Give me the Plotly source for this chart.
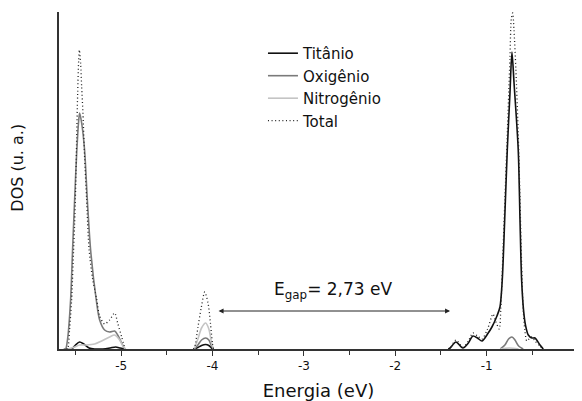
import plotly.graph_objects as go

# ---------------- data (energy in eV, DOS in arbitrary units) ----------------
ti_x_left = [-5.62, -5.54, -5.50, -5.454, -5.41, -5.35, -5.29, -5.20, -5.12, -5.06, -5.01, -4.96]
ti_y_left = [0, 0, 4, 7, 5, 1, 0, 0, 1, 2, 1, 0]
ti_x_mid = [-4.20, -4.16, -4.12, -4.075, -4.04, -4.01, -3.99]
ti_y_mid = [0, 1.5, 3.5, 4.5, 3.5, 1, 0]
ti_x_right = [-1.42, -1.40, -1.336, -1.26, -1.20, -1.15, -1.10, -1.051, -0.99, -0.942, -0.887,
              -0.854, -0.829, -0.80, -0.774, -0.745, -0.723, -0.70, -0.654, -0.635, -0.617,
              -0.595, -0.575, -0.544, -0.504, -0.471, -0.416, -0.38]
ti_y_right = [0, 1, 7, 1, 6, 13, 11, 8, 15, 22, 33,
              42, 69, 135, 199, 255, 297, 266, 199, 130, 69,
              38, 24, 14, 11, 11, 4, 0]

ox_x_left = [-5.63, -5.608, -5.586, -5.553, -5.531, -5.509, -5.487, -5.465, -5.454, -5.432,
             -5.400, -5.370, -5.334, -5.272, -5.235, -5.181, -5.126, -5.071, -5.038, -4.994, -4.961]
ox_y_left = [0, 0, 10, 49, 100, 149, 195, 228, 236, 226,
             199, 149, 99, 49, 29, 19, 17, 18, 14, 6, 0]
ox_x_mid = [-4.20, -4.16, -4.12, -4.075, -4.04, -4.01, -3.99]
ox_y_mid = [0, 4, 9, 11, 9, 3, 0]
ox_x_right = [-0.85, -0.80, -0.76, -0.723, -0.69, -0.65, -0.60]
ox_y_right = [0, 4, 10, 12, 9, 3, 0]

ni_x_left = [-5.58, -5.509, -5.454, -5.38, -5.29, -5.213, -5.126, -5.071, -5.016, -4.98, -4.95]
ni_y_left = [0, 2, 4, 4, 5, 8, 12, 14, 9, 3, 0]
ni_x_mid = [-4.20, -4.16, -4.12, -4.075, -4.04, -4.01, -3.99]
ni_y_mid = [0, 10, 21, 26, 20, 6, 0]
ni_x_right = [-0.85, -0.75, -0.65]
ni_y_right = [0, 1, 0]

tot_x_left = [-5.60, -5.586, -5.564, -5.542, -5.520, -5.509, -5.498, -5.487, -5.476, -5.465,
              -5.457, -5.443, -5.432, -5.418, -5.400, -5.378, -5.351, -5.312, -5.268, -5.235,
              -5.181, -5.126, -5.071, -5.038, -4.994, -4.956]
tot_y_left = [0, 0, 20, 49, 100, 125, 160, 210, 255, 288,
              299, 285, 262, 236, 192, 150, 100, 70, 50, 33,
              25, 29, 36, 26, 12, 0]
tot_x_mid = [-4.21, -4.195, -4.159, -4.122, -4.085, -4.049, -4.023, -4.001, -3.99]
tot_y_mid = [0, 2, 22, 42, 57, 46, 26, 6, 0]
tot_x_right = [-1.42, -1.40, -1.336, -1.26, -1.20, -1.15, -1.10, -1.051, -0.99, -0.93, -0.91,
               -0.862, -0.845, -0.82, -0.80, -0.774, -0.745, -0.73, -0.715, -0.70, -0.68,
               -0.654, -0.635, -0.617, -0.60, -0.581, -0.56, -0.535, -0.504, -0.471, -0.416, -0.38]
tot_y_right = [0, 1, 9, 2, 8, 16, 13, 10, 20, 35, 30,
               20, 40, 100, 150, 215, 290, 330, 336, 318, 280,
               215, 150, 85, 40, 18, 8, 10, 12, 8, 3, 0]

series_names = ["Titânio", "Oxigênio", "Nitrogênio", "Total"]
gap_energy_label = "E<sub>gap</sub>= 2,73 eV"
gap_start = -3.95
gap_end = -1.40
x_ticks = [-5, -4, -3, -2, -1, 0]


def join(*parts):
    xs, ys = [], []
    for i, (px, py) in enumerate(parts):
        if i:
            xs.append(None)
            ys.append(None)
        xs += px
        ys += py
    return xs, ys


ti = join((ti_x_left, ti_y_left), (ti_x_mid, ti_y_mid), (ti_x_right, ti_y_right))
ox = join((ox_x_left, ox_y_left), (ox_x_mid, ox_y_mid), (ox_x_right, ox_y_right))
ni = join((ni_x_left, ni_y_left), (ni_x_mid, ni_y_mid), (ni_x_right, ni_y_right))
tot = join((tot_x_left, tot_y_left), (tot_x_mid, tot_y_mid), (tot_x_right, tot_y_right))

styles = [
    dict(color="#111111", width=1.6, dash="solid"),
    dict(color="#7a7a7a", width=1.6, dash="solid"),
    dict(color="#c4c4c4", width=1.6, dash="solid"),
    dict(color="#222222", width=1.3, dash="1px,2.6px"),
]

fig = go.Figure()
for name, (xs, ys), st in zip(series_names, [ti, ox, ni, tot], styles):
    fig.add_trace(go.Scatter(x=xs, y=ys, mode="lines", name=name,
                             line=dict(shape="spline", smoothing=0.8, **st),
                             connectgaps=False))

FONT = "DejaVu Sans"
# the page body keeps an 8px default margin, so the figure is 8px smaller
fig.update_layout(
    template="none",
    width=574, height=393,
    margin=dict(l=51, r=4, t=4, b=52, autoexpand=False),
    paper_bgcolor="white", plot_bgcolor="white",
    font=dict(family=FONT, color="#111111"),
    showlegend=True,
    legend=dict(x=0.393, y=0.926, xanchor="left", yanchor="top",
                bgcolor="rgba(0,0,0,0)", font=dict(size=15, family=FONT),
                tracegroupgap=0),
    xaxis=dict(range=[-5.68, 0], showgrid=False, zeroline=False, automargin=False,
               showline=True, linecolor="#333333", linewidth=1.5,
               ticks="outside", ticklen=5, tickwidth=1.2, tickcolor="#333333",
               tickvals=x_ticks, ticktext=[str(v) for v in x_ticks],
               tickfont=dict(size=12, family=FONT),
               minor=dict(dtick=0.5, tick0=0, ticks="outside", ticklen=4,
                          tickwidth=1.2, tickcolor="#333333", showgrid=False),
               title=dict(text="Energia (eV)", font=dict(size=18, family=FONT), standoff=13)),
    yaxis=dict(range=[0, 337], showgrid=False, zeroline=False, automargin=False,
               showline=True, linecolor="#333333", linewidth=1.5,
               ticks="", showticklabels=False),
)

# y-axis title (placed slightly above the axis centre, as in the reference)
fig.add_annotation(text="DOS (u. a.)", textangle=-90, xref="paper", yref="paper",
                   x=-0.079, y=0.538, xanchor="center", yanchor="middle", showarrow=False,
                   font=dict(size=16, family=FONT, color="#111111"))

fig.add_annotation(x=gap_end, y=38, ax=gap_start, ay=38, xref="x", yref="y",
                   axref="x", ayref="y", text="", showarrow=True,
                   arrowhead=2, startarrowhead=2, arrowside="end+start",
                   arrowsize=1, arrowwidth=1, arrowcolor="#222222")
fig.add_annotation(x=-2.68, y=59, xref="x", yref="y", text=gap_energy_label,
                   showarrow=False, font=dict(size=17, family=FONT, color="#111111"))

fig.write_html("out.html")
